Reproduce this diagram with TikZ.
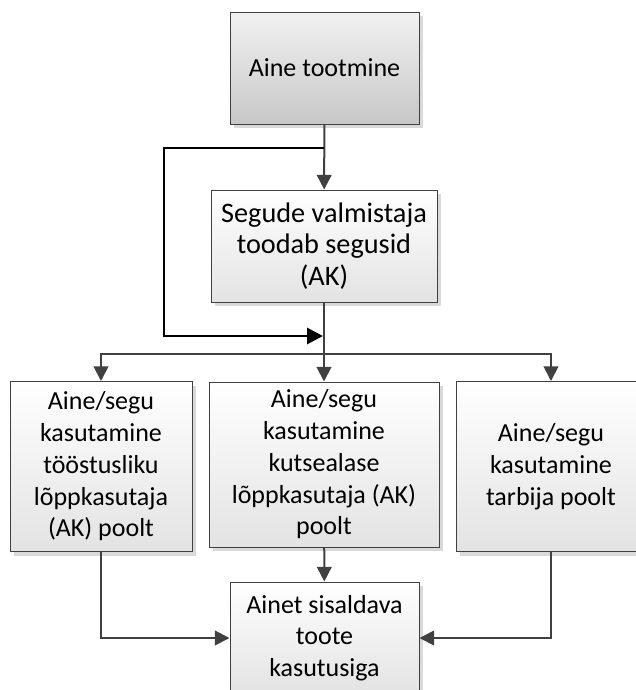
\documentclass[tikz,border=0pt]{standalone}
\usepackage{fontspec}
\setmainfont{Carlito}
\usetikzlibrary{arrows.meta,shadows}

\begin{document}
\begin{tikzpicture}[x=0.75pt,y=-0.75pt]
\tikzset{box/.style={draw=black!75,line width=0.75pt,align=center,inner sep=2pt,
  top color=white,bottom color=black!11,
  drop shadow={opacity=1,fill=black!15,shadow xshift=3pt,shadow yshift=-3pt},
  font=\fontsize{19.5}{23.8}\selectfont}}
\tikzset{darkbox/.style={box,top color=black!5,bottom color=black!22}}
\tikzset{link/.style={draw=black!75,line width=1.5pt}}
\tikzset{arrow/.style={link,-{Triangle[length=11pt,width=11pt]}}}
\tikzset{loopline/.style={draw=black,line width=2.2pt,-{Triangle[length=12pt,width=12pt]}}}

\useasboundingbox (0,0) rectangle (636,690);

\node[darkbox,minimum width=141.75pt,minimum height=84pt] (tootmine) at (324.5,68) {Aine tootmine};
\node[box,minimum width=169.5pt,minimum height=84pt,font=\fontsize{21.2}{23.8}\selectfont] (segud) at (324,246) {Segude valmistaja\\toodab segusid\\(AK)};
\node[box,minimum width=136.5pt,minimum height=127.5pt] (toostus) at (101,466.5) {Aine/segu\\kasutamine\\tööstusliku\\lõppkasutaja\\(AK) poolt};
\node[box,minimum width=172.5pt,minimum height=123.75pt] (kutse) at (324,464.5) {Aine/segu\\kasutamine\\kutsealase\\lõppkasutaja (AK)\\poolt};
\node[box,minimum width=142.5pt,minimum height=127.5pt] (tarbija) at (551,466.5) {Aine/segu\\kasutamine\\tarbija poolt};
\node[box,minimum width=141.75pt,minimum height=84pt] (toode) at (324.5,638) {Ainet sisaldava\\toote\\kasutusiga};

\coordinate (split) at (324,148);
\coordinate (loopB) at (164,336);
\coordinate (merge) at (323,336);
\coordinate (fork) at (324,354);

\draw[arrow] (tootmine) -- (segud);
\draw[loopline] (split) -| (loopB) -- (merge);
\draw[link] (segud) -- (fork);
\draw[arrow] (fork) -- (kutse);
\draw[arrow] (fork) -| (toostus);
\draw[arrow] (fork) -| (tarbija);
\draw[arrow] (toostus) |- (toode);
\draw[arrow] (tarbija) |- (toode);
\draw[arrow] (kutse) -- (toode);

\end{tikzpicture}
\end{document}
